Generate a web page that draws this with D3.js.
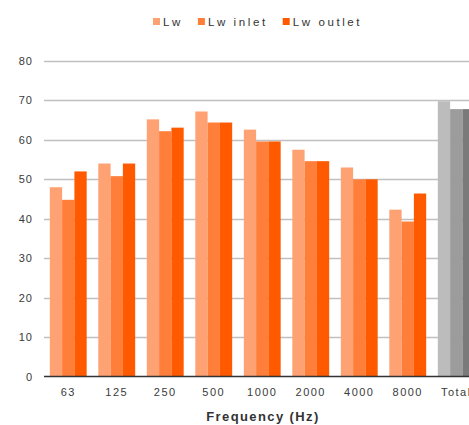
<!DOCTYPE html>
<html>
<head>
<meta charset="utf-8">
<script src="https://cdn.jsdelivr.net/npm/d3@7"></script>
<style>
  html, body { margin: 0; padding: 0; background: #fff; }
  svg { display: block; font-family: "Liberation Sans", Arial, sans-serif; }
</style>
</head>
<body>
<svg id="chart" width="469" height="425"></svg>
<script>
// Octave-band sound power levels, dB
const categories = ["63", "125", "250", "500", "1000", "2000", "4000", "8000", "Total"];
const lw       = [48.0, 54.0, 65.2, 67.2, 62.6, 57.5, 53.0, 42.3, 69.8];
const lwInlet  = [44.8, 50.8, 62.2, 64.4, 59.6, 54.6, 50.0, 39.3, 67.8];
const lwOutlet = [52.0, 54.0, 63.1, 64.4, 59.6, 54.6, 50.0, 46.4, 67.8];
const seriesNames = ["Lw", "Lw inlet", "Lw outlet"];
const yTicks = [0, 10, 20, 30, 40, 50, 60, 70, 80];
const xTitle = "Frequency (Hz)";

const bandColors  = ["#ffa273", "#ff7e3a", "#ff5a00"];
const totalColors = ["#bcbcbc", "#9c9c9c", "#7a7a7a"];

const svg = d3.select("#chart");
const W = 469;
const left = 44;

const x = d3.scaleBand()
  .domain(categories)
  .range([left, left + 9 * 48.5])
  .paddingInner(0.24)
  .paddingOuter(0.12);

const xs = d3.scaleBand()
  .domain(seriesNames)
  .range([0, x.bandwidth()]);

const y = d3.scaleLinear().domain([0, 80]).range([376.5, 61]);

// Horizontal gridlines
svg.append("g").selectAll("line")
  .data(yTicks.filter(d => d > 0))
  .join("line")
  .attr("x1", left).attr("x2", W)
  .attr("y1", d => Math.round(y(d)) + 0.5).attr("y2", d => Math.round(y(d)) + 0.5)
  .attr("stroke", "#c0c0c0").attr("stroke-width", 1.3);

// Y axis labels
const yAxis = d3.axisLeft(y).tickValues(yTicks).tickSize(0).tickPadding(0);
const gy = svg.append("g").attr("transform", "translate(33,0)").call(yAxis);
gy.select(".domain").remove();
gy.selectAll("text")
  .attr("font-size", 11).attr("fill", "#3a3a3a").attr("letter-spacing", "1px")
  .attr("font-family", "Liberation Sans, Arial, sans-serif");

// Bars
const rows = categories.map((c, i) => ({ cat: c, vals: [lw[i], lwInlet[i], lwOutlet[i]] }));
const groups = svg.append("g").selectAll("g")
  .data(rows)
  .join("g")
  .attr("transform", d => `translate(${x(d.cat)},0)`);

groups.selectAll("rect")
  .data(d => d.vals.map((v, j) => ({ cat: d.cat, name: seriesNames[j], j, v })))
  .join("rect")
  .attr("x", d => xs(d.name))
  .attr("width", xs.bandwidth())
  .attr("y", d => y(d.v))
  .attr("height", d => y(0) - y(d.v))
  .attr("fill", d => d.cat === "Total" ? totalColors[d.j] : bandColors[d.j]);

// Baseline
svg.append("line")
  .attr("x1", left).attr("x2", W)
  .attr("y1", y(0)).attr("y2", y(0))
  .attr("stroke", "#333").attr("stroke-width", 1.5);

// X axis labels
const xAxis = d3.axisBottom(x).tickSize(0).tickPadding(0);
const gx = svg.append("g").attr("transform", `translate(0,${y(0) + 11.5})`).call(xAxis);
gx.select(".domain").remove();
gx.selectAll("text")
  .attr("font-size", 11).attr("fill", "#3a3a3a").attr("letter-spacing", "1.5px")
  .attr("font-family", "Liberation Sans, Arial, sans-serif");

// X axis title
svg.append("text")
  .attr("x", 263).attr("y", 421)
  .attr("text-anchor", "middle")
  .attr("font-size", 13).attr("font-weight", "bold")
  .attr("letter-spacing", "1.4px")
  .attr("fill", "#333")
  .text(xTitle);

// Legend
const legend = svg.append("g");
let lx = 153;
seriesNames.forEach((name, i) => {
  legend.append("rect")
    .attr("x", lx).attr("y", 18).attr("width", 7).attr("height", 7)
    .attr("fill", bandColors[i]);
  const t = legend.append("text")
    .attr("x", lx + 10).attr("y", 25.5)
    .attr("font-size", 11.5).attr("fill", "#333")
    .attr("letter-spacing", "2.6px")
    .text(name);
  lx += 10 + t.node().getComputedTextLength() + 15;
});
</script>
</body>
</html>
